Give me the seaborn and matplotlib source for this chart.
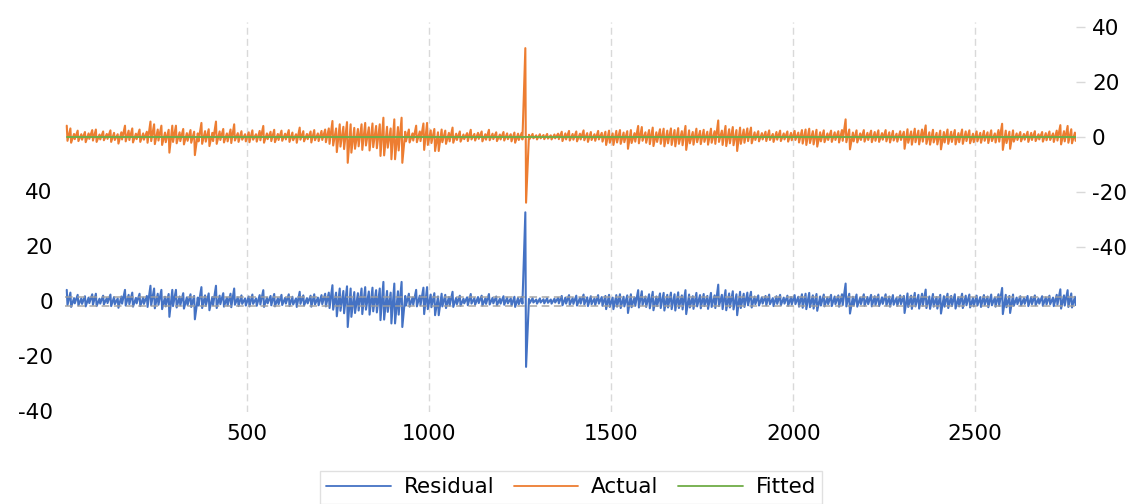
import numpy as np
import pandas as pd
import matplotlib
matplotlib.use("Agg")
import matplotlib.pyplot as plt
from matplotlib.lines import Line2D
import seaborn as sns

ACTUAL_HIGH = [
    4.0, 3.0, 1.0, 2.2, 0.9, 1.7, 1.2, 2.4, 2.6, 0.8,
    1.9, 1.0, 2.3, 1.4, 0.9, 1.6, 4.0, 2.2, 3.0, 1.1,
    2.6, 1.2, 1.8, 5.5, 4.5, 2.6, 4.0, 1.5, 2.5, 4.0,
    4.0, 1.6, 2.8, 1.3, 2.4, 1.8, 1.2, 5.0, 2.0, 2.7,
    1.4, 5.5, 1.9, 2.8, 1.2, 2.6, 4.5, 1.3, 2.0, 0.9,
    1.6, 2.3, 0.9, 2.1, 3.9, 1.2, 1.8, 2.5, 1.0, 2.2,
    1.1, 2.4, 1.5, 0.9, 3.3, 2.0, 1.0, 1.9, 2.4, 1.2,
    2.1, 2.6, 3.0, 5.7, 3.0, 4.5, 3.6, 5.3, 4.5, 3.2,
    2.8, 4.5, 5.0, 3.4, 4.8, 3.9, 4.5, 6.9, 3.6, 3.0,
    6.3, 3.5, 6.9, 1.8, 2.6, 1.2, 4.0, 1.9, 4.8, 5.0,
    2.3, 2.8, 1.6, 2.6, 2.2, 1.4, 3.3, 1.1, 1.9, 0.8,
    1.3, 2.5, 1.0, 1.4, 1.9, 0.9, 2.5, 1.1, 1.6, 0.8,
    1.7, 1.2, 0.9, 1.5, 1.1, 1.4, 32.2, 0.7, 1.0, 0.5,
    0.9, 0.6, 1.0, 0.5, 0.8, 1.1, 1.8, 1.2, 2.1, 1.0,
    1.9, 1.1, 2.3, 1.3, 1.7, 0.9, 2.1, 1.4, 1.8, 2.2,
    1.2, 2.1, 2.4, 1.5, 2.0, 2.4, 1.3, 3.9, 3.5, 1.6,
    2.4, 3.3, 1.6, 2.7, 2.9, 2.2, 3.0, 2.4, 3.1, 2.0,
    3.9, 2.3, 1.7, 2.9, 2.1, 2.5, 1.8, 2.9, 2.0, 5.9,
    2.2, 3.9, 2.7, 3.5, 2.4, 3.3, 2.6, 3.0, 3.3, 1.6,
    2.0, 1.3, 1.8, 2.3, 1.0, 1.7, 2.2, 1.2, 1.9, 1.4,
    2.1, 1.5, 2.4, 2.6, 2.9, 2.0, 2.5, 1.6, 2.3, 1.2,
    2.2, 1.6, 2.0, 2.4, 6.3, 2.6, 1.5, 2.3, 1.2, 2.4,
    1.4, 2.2, 1.7, 2.3, 1.3, 2.4, 1.6, 2.1, 1.1, 2.0,
    1.8, 2.7, 1.9, 2.9, 2.2, 2.6, 4.1, 1.6, 2.5, 1.4,
    2.2, 1.7, 2.6, 1.8, 2.4, 1.3, 2.6, 1.9, 2.3, 1.1,
    1.9, 1.4, 2.1, 1.6, 2.3, 1.2, 2.4, 4.7, 2.2, 1.8,
    2.3, 1.2, 1.7, 1.0, 1.8, 1.4, 2.0, 0.9, 1.7, 1.3,
    1.9, 1.2, 2.2, 4.2, 2.0, 3.9, 2.7, 1.5,
]
ACTUAL_LOW = [
    -1.5, -2.2, -0.9, -1.6, -1.1, -2.0, -0.8, -1.4, -1.9, -1.0,
    -1.3, -0.8, -1.9, -1.2, -2.5, -1.0, -1.7, -1.2, -2.1, -0.9,
    -1.9, -1.1, -2.2, -1.6, -2.7, -1.4, -3.0, -2.0, -5.8, -1.9,
    -2.4, -1.6, -2.8, -1.5, -2.2, -6.7, -1.7, -2.6, -1.8, -3.4,
    -1.6, -2.6, -1.2, -2.1, -1.7, -2.3, -1.4, -1.9, -1.1, -1.7,
    -2.0, -1.1, -1.8, -1.3, -2.2, -0.9, -1.6, -2.0, -1.2, -1.5,
    -1.0, -1.9, -1.3, -2.2, -1.1, -1.7, -0.9, -2.1, -1.3, -1.6,
    -1.2, -2.0, -2.6, -3.2, -5.6, -3.6, -4.5, -9.5, -5.8, -4.4,
    -3.5, -4.8, -3.2, -5.0, -3.8, -4.2, -7.0, -6.8, -4.0, -8.2,
    -8.2, -5.0, -9.5, -1.7, -2.1, -1.4, -2.0, -1.6, -4.8, -3.0,
    -2.3, -5.2, -5.2, -2.0, -2.6, -1.7, -2.2, -1.2, -1.8, -0.9,
    -1.6, -1.0, -1.4, -0.8, -1.7, -1.1, -1.3, -0.9, -1.6, -1.0,
    -1.4, -0.9, -1.7, -2.2, -1.2, -1.0, -24.0, -0.8, -0.6, -1.0,
    -0.6, -0.9, -0.7, -1.0, -0.6, -0.9, -1.6, -1.0, -1.4, -1.1,
    -1.7, -1.0, -1.3, -1.9, -1.2, -1.5, -1.0, -1.8, -3.0, -2.2,
    -3.0, -2.1, -2.6, -2.0, -4.4, -2.3, -1.8, -2.4, -1.5, -2.2,
    -2.7, -3.4, -1.9, -2.6, -3.5, -2.4, -3.0, -3.5, -2.6, -3.1,
    -4.8, -2.4, -2.9, -2.0, -2.7, -1.9, -2.9, -2.2, -2.6, -1.9,
    -3.0, -3.4, -2.4, -3.1, -5.2, -2.6, -2.2, -1.6, -2.4, -1.2,
    -1.7, -1.0, -1.6, -1.2, -1.9, -1.1, -1.6, -1.0, -1.8, -1.3,
    -1.2, -2.1, -2.5, -3.0, -2.3, -2.8, -3.6, -1.7, -2.0, -1.2,
    -1.9, -1.2, -2.1, -1.5, -2.0, -4.6, -1.7, -2.1, -1.2, -1.8,
    -1.2, -2.0, -1.5, -1.9, -1.1, -1.7, -2.1, -1.4, -1.8, -1.2,
    -4.4, -2.2, -2.9, -2.0, -2.8, -1.8, -2.6, -2.9, -2.1, -2.8,
    -4.6, -2.1, -2.6, -1.9, -2.8, -2.0, -2.6, -1.6, -2.4, -2.0,
    -1.7, -2.2, -1.5, -2.3, -1.6, -2.1, -1.8, -4.8, -2.3, -4.4,
    -1.8, -1.2, -1.7, -1.1, -1.9, -1.2, -1.6, -1.0, -1.8, -1.3,
    -1.2, -1.9, -1.4, -2.8, -1.7, -2.2, -2.4, -1.5,
]
FITTED_LEVEL = -0.2          # fitted values sit almost flat at this level
SE_BAND = 1.5                # +/- 1 S.E. dashed band around residual zero
BLOCK = 10                   # observations per envelope block
X_TICKS = [500, 1000, 1500, 2000, 2500]
Y_TICKS = [-40, -20, 0, 20, 40]
N_OBS = 2777
LABELS = ["Residual", "Actual", "Fitted"]

# ---- build the series ----
obs, actual = [], []
for k, (h, l) in enumerate(zip(ACTUAL_HIGH, ACTUAL_LOW)):
    obs += [BLOCK * k + 4, BLOCK * k + 6]
    actual += [h, l]
actual = np.array(actual)
fitted = np.full_like(actual, FITTED_LEVEL)
residual = actual - fitted
df = pd.DataFrame({"obs": obs, "Actual": actual, "Fitted": fitted, "Residual": residual})

BLUE, ORANGE, GREEN = "#4472C4", "#ED7D31", "#70AD47"

sns.set_theme(style="white")
plt.rcParams["font.family"] = ["DejaVu Sans"]
plt.rcParams["text.color"] = "black"
plt.rcParams["axes.unicode_minus"] = False

W, H = 1142, 504
FS = 15.5
fig = plt.figure(figsize=(W / 100, H / 100), dpi=100)
left, right, top, bottom = 65.3, 1076, 22, 412
ax = fig.add_axes([left / W, (H - bottom) / H, (right - left) / W, (bottom - top) / H])
ax2 = ax.twinx()

# residual on the left axis
sns.lineplot(data=df, x="obs", y="Residual", ax=ax, color=BLUE, lw=1.5,
             estimator=None, legend=False, zorder=2)
ax.axhline(SE_BAND, color="#9E9E9E", lw=1.1, ls=(0, (5, 3)), zorder=3, alpha=0.9)
ax.axhline(-SE_BAND, color="#9E9E9E", lw=1.1, ls=(0, (5, 3)), zorder=3, alpha=0.9)
# actual & fitted on the right axis
sns.lineplot(data=df, x="obs", y="Actual", ax=ax2, color=ORANGE, lw=1.5,
             estimator=None, legend=False)
sns.lineplot(data=df, x="obs", y="Fitted", ax=ax2, color=GREEN, lw=1.4,
             estimator=None, legend=False)

ax.set_xlim(0, N_OBS)
ax.set_xticks(X_TICKS)
ax.xaxis.grid(True, color="#D9D9D9", lw=1, ls=(0, (5, 3)))
ax.yaxis.grid(False)
ax.set_ylim(-40.2, 101.6)
ax.set_yticks(Y_TICKS)
ax2.set_ylim(-100.1, 41.7)
ax2.set_yticks(Y_TICKS)
ax2.grid(False)

for a in (ax, ax2):
    a.set_xlabel("")
    a.set_ylabel("")
    for s in a.spines.values():
        s.set_visible(False)

ax.tick_params(axis="x", length=0, pad=9, labelsize=FS, labelcolor="black")
ax.tick_params(axis="y", length=0, pad=9, labelsize=FS, labelcolor="black")
ax2.tick_params(axis="y", length=6.5, width=1, color="#D9D9D9", pad=5,
                labelsize=FS, labelcolor="black", right=True)

handles = [Line2D([], [], color=c, lw=1.3) for c in (BLUE, ORANGE, GREEN)]
leg = fig.legend(handles, LABELS, loc="upper center",
                 bbox_to_anchor=(571 / W, (H - 471) / H), ncol=3, frameon=True,
                 fancybox=False, edgecolor="#D9D9D9", fontsize=FS,
                 handlelength=3.0, handletextpad=0.6, columnspacing=0.9,
                 borderpad=0.3, borderaxespad=0)
leg.get_frame().set_linewidth(1)

fig.savefig("out.png", dpi=100)
